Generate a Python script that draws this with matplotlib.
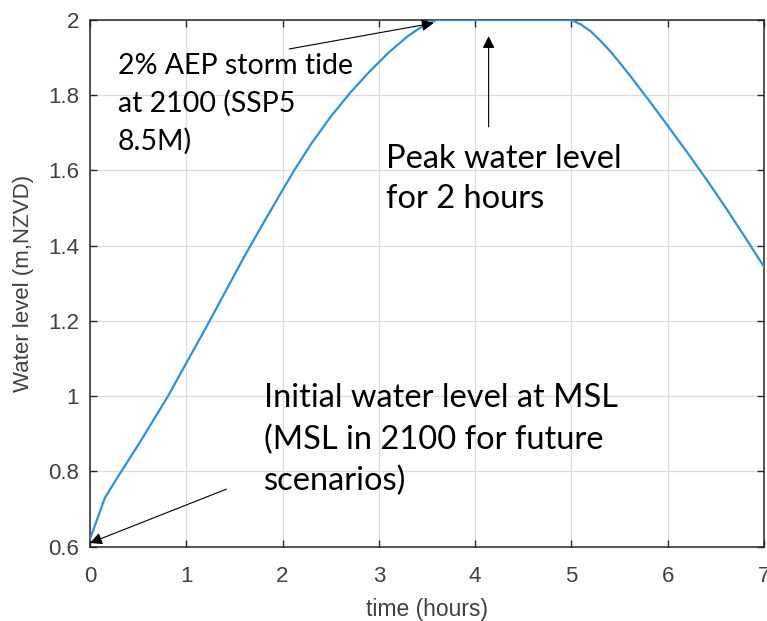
import numpy as np
import matplotlib
matplotlib.use('Agg')
import matplotlib.pyplot as plt

# storm tide hydrograph (hours, m NZVD): rise, 2 h plateau, fall
time_h = [0.0, 0.155, 0.3, 0.5, 0.81, 1.0, 1.2, 1.4, 1.6, 1.8, 2.0, 2.12, 2.3, 2.5,
          2.7, 2.9, 3.1, 3.3, 3.45, 3.6,
          5.0, 5.1, 5.2, 5.3, 5.4, 5.5, 5.6, 5.8, 6.0, 6.2, 6.4, 6.6, 6.8, 7.0]
level_m = [0.62, 0.73, 0.79, 0.87, 1.0, 1.088, 1.18, 1.275, 1.37, 1.46, 1.548, 1.60,
           1.672, 1.743, 1.806, 1.862, 1.913, 1.957, 1.983, 2.0,
           2.0, 1.988, 1.97, 1.945, 1.918, 1.887, 1.855, 1.788, 1.719, 1.649, 1.577,
           1.502, 1.424, 1.344]

x_ticks = [0, 1, 2, 3, 4, 5, 6, 7]
y_ticks = [0.6, 0.8, 1.0, 1.2, 1.4, 1.6, 1.8, 2.0]
y_ticklabels = ['0.6', '0.8', '1', '1.2', '1.4', '1.6', '1.8', '2']

note_font = 'Lato'
axis_font = 'Liberation Sans'

fig = plt.figure(figsize=(7.67, 6.21), dpi=100)
ax = fig.add_axes([0.1173, 0.1196, 0.8788, 0.8482])

ax.plot(time_h, level_m, color='#3391d3', lw=1.6, zorder=3)

ax.set_xlim(0, 7)
ax.set_ylim(0.6, 2.0)
ax.set_xticks(x_ticks)
ax.set_yticks(y_ticks)
ax.set_yticklabels(y_ticklabels)
ax.grid(True, color='#dcdcdc', lw=0.9)
ax.set_axisbelow(True)
ax.tick_params(direction='in', length=5, width=1, top=True, right=True,
               colors='#262626', labelsize=16, labelcolor='#404040')
ax.tick_params(axis='x', pad=14)
ax.tick_params(axis='y', pad=8)
for s in ax.spines.values():
    s.set_color('#262626')
    s.set_linewidth(1.1)

ax.set_xlabel('time (hours)', fontsize=16.5, color='#404040', family=axis_font, labelpad=8)
ax.set_ylabel('Water level (m,NZVD)', fontsize=16, color='#404040', family=axis_font, labelpad=10)
for lab in ax.get_xticklabels() + ax.get_yticklabels():
    lab.set_family(axis_font)

arrow = dict(arrowstyle='-|>', color='k', lw=0.8, mutation_scale=18, shrinkA=0, shrinkB=0)

ax.annotate('', xy=(3.57, 1.992), xytext=(2.07, 1.923), arrowprops=arrow)
ax.text(0.29, 1.777, '2% AEP storm tide\nat 2100 (SSP5\n8.5M)', fontsize=20.5,
        family=note_font, va='center', ha='left', linespacing=1.5)

ax.annotate('', xy=(4.14, 1.957), xytext=(4.14, 1.716), arrowprops=arrow)
ax.text(3.07, 1.578, 'Peak water level\nfor 2 hours', fontsize=23.5,
        family=note_font, va='center', ha='left', linespacing=1.4)

ax.annotate('', xy=(0.0, 0.61), xytext=(1.417, 0.753), arrowprops=arrow)
ax.text(1.81, 0.884, 'Initial water level at MSL\n(MSL in 2100 for future\nscenarios)', fontsize=23.5,
        family=note_font, va='center', ha='left', linespacing=1.45)

plt.savefig('out.png', dpi=100)
